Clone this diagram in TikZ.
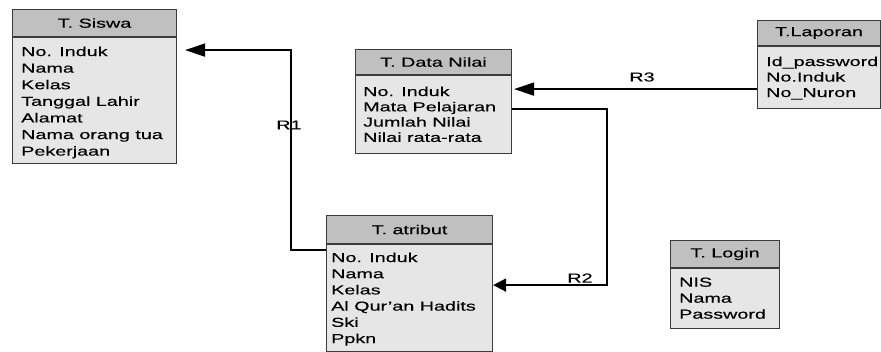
\documentclass[tikz,border=0pt]{standalone}
\usepackage{fontspec}
\setmainfont{Liberation Sans}[FakeStretch=1.52,FakeBold=0.25]
\usetikzlibrary{arrows.meta}
\definecolor{hdrgray}{HTML}{C0C0C0}
\definecolor{bodygray}{HTML}{E6E6E6}
\definecolor{edgegray}{HTML}{3C3C3C}
\tikzset{
  tblhead/.style={draw=edgegray, fill=hdrgray, line width=1.1pt, inner sep=0pt,
    anchor=north west, font=\fontsize{13}{15}\selectfont},
  tblbody/.style={draw=edgegray, fill=bodygray, line width=1.1pt, inner sep=0pt,
    anchor=north west},
  fields/.style={inner sep=0pt, anchor=north west, align=left},
  conn/.style={line width=1.8pt, black},
  bigtip/.style={-{Triangle[length=20pt,width=13pt]}},
  smalltip/.style={-{Triangle[length=13pt,width=13pt]}},
  rlabel/.style={inner sep=0pt, font=\fontsize{13}{15}\selectfont}
}
\begin{document}
\begin{tikzpicture}[x=1pt,y=-1pt]
\useasboundingbox (0,0) rectangle (881,352);

% bend points of the relation lines
\coordinate (r1x) at (291,150);
\coordinate (r2x) at (607,200);

% ---- T. Siswa
\node[tblhead, minimum width=164pt, minimum height=27pt] (siswaH) at (12,9) {T. Siswa};
\node[tblbody, minimum width=164pt, minimum height=126pt] (siswaB) at (siswaH.south west) {};
\node[fields, font=\fontsize{13}{16.6}\selectfont] (siswaF) at ([xshift=9pt,yshift=-9.3pt]siswaB.north west)
  {No. Induk\\Nama\\Kelas\\Tanggal Lahir\\Alamat\\Nama orang tua\\Pekerjaan};

% ---- T. Data Nilai
\node[tblhead, minimum width=156pt, minimum height=25pt] (dataH) at (355,49) {T. Data Nilai};
\node[tblbody, minimum width=156pt, minimum height=78pt] (dataB) at (dataH.south west) {};
\node[fields, font=\fontsize{13}{15.3}\selectfont] (dataF) at ([xshift=8pt,yshift=-11.3pt]dataB.north west)
  {No. Induk\\Mata Pelajaran\\Jumlah Nilai\\Nilai rata-rata};

% ---- T.Laporan
\node[tblhead, minimum width=123pt, minimum height=25pt] (laporH) at (757,20) {T.Laporan};
\node[tblbody, minimum width=123pt, minimum height=62pt] (laporB) at (laporH.south west) {};
\node[fields, font=\fontsize{13}{15.5}\selectfont] (laporF) at ([xshift=9pt,yshift=-10.3pt]laporB.north west)
  {Id\_password\\No.Induk\\No\_Nuron};

% ---- T. atribut
\node[tblhead, minimum width=166pt, minimum height=28pt] (atribH) at (326,215) {T. atribut};
\node[tblbody, minimum width=166pt, minimum height=107pt] (atribB) at (atribH.south west) {};
\node[fields, font=\fontsize{13}{16.2}\selectfont] (atribF) at ([xshift=5pt,yshift=-8.3pt]atribB.north west)
  {No. Induk\\Nama\\Kelas\\Al Qur'an Hadits\\Ski\\Ppkn};

% ---- T. Login
\node[tblhead, minimum width=109pt, minimum height=27pt] (loginH) at (670,240) {T. Login};
\node[tblbody, minimum width=109pt, minimum height=60pt] (loginB) at (loginH.south west) {};
\node[fields, font=\fontsize{13}{16}\selectfont] (loginF) at ([xshift=9pt,yshift=-9.3pt]loginB.north west)
  {NIS\\Nama\\Password};

% ---- relations
\coordinate (r1s) at ([yshift=-6pt]atribB.north west);
\coordinate (r1e) at ([yshift=-13pt]siswaB.north east);
\draw[conn, bigtip, shorten >=8pt] (r1s) -| (r1x) |- (r1e);
\node[rlabel] (r1) at (289,125) {R1};

\coordinate (r3s) at ([yshift=-43pt]laporB.north west);
\draw[conn, bigtip, shorten >=2pt] (r3s) -- (r3s -| dataB.east);
\node[rlabel] (r3) at (642,77) {R3};

\coordinate (r2s) at ([yshift=-34pt]dataB.north east);
\coordinate (r2e) at ([yshift=-41pt]atribB.north east);
\draw[conn, smalltip] (r2s) -| (r2x) |- (r2e);
\node[rlabel] (r2) at (580,278) {R2};
\end{tikzpicture}
\end{document}
